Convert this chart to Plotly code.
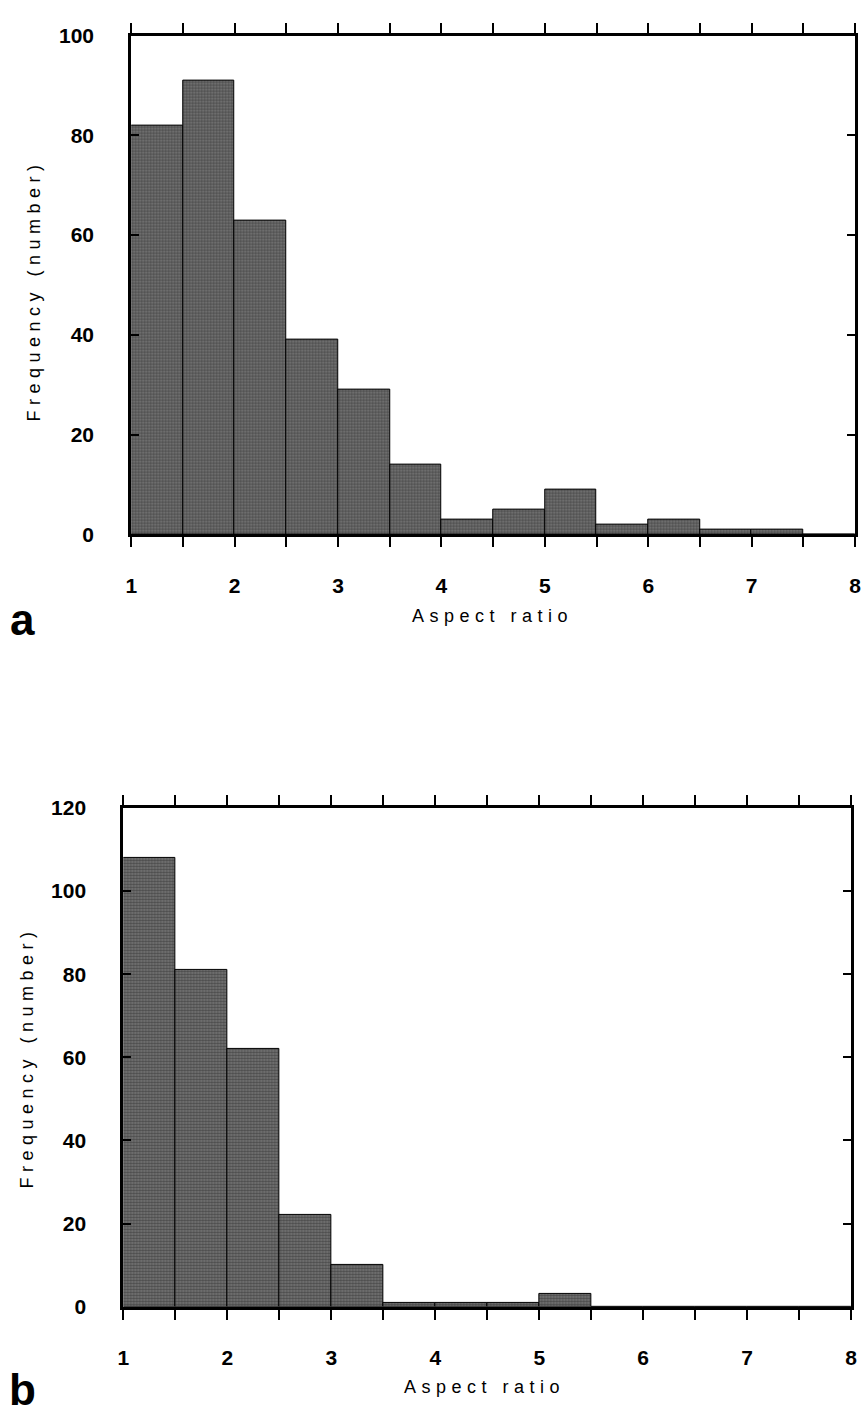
import plotly.graph_objects as go

# bin left edges (aspect ratio) and counts for the two panels
bin_left = [1.0, 1.5, 2.0, 2.5, 3.0, 3.5, 4.0, 4.5, 5.0, 5.5, 6.0, 6.5, 7.0, 7.5]
counts_a = [82, 91, 63, 39, 29, 14, 3, 5, 9, 2, 3, 1, 1, 0]
counts_b = [108, 81, 62, 22, 10, 1, 1, 1, 3, 0, 0, 0, 0, 0]
bin_width = 0.5

x_ticks = [1, 2, 3, 4, 5, 6, 7, 8]
y_ticks_a = [0, 20, 40, 60, 80, 100]
y_ticks_b = [0, 20, 40, 60, 80, 100, 120]

W, H = 868, 1422
centers = [b + bin_width / 2 for b in bin_left]

fig = go.Figure()
bar_style = dict(marker=dict(color="#4e4e4e", line=dict(color="black", width=1),
                             pattern=dict(shape=".", fgcolor="#1c1c1c", bgcolor="#7a7a7a",
                                          size=3, solidity=0.55)),
                 width=bin_width, showlegend=False)
fig.add_trace(go.Bar(x=centers, y=counts_a, xaxis="x", yaxis="y", **bar_style))
fig.add_trace(go.Bar(x=centers, y=counts_b, xaxis="x2", yaxis="y2", **bar_style))

tick_font = dict(family="Liberation Sans, Arial, sans-serif", size=21, color="black", weight="bold")

def xaxis(dom, anchor):
    return dict(domain=dom, anchor=anchor, range=[1, 8], tickvals=x_ticks,
                ticks="outside", ticklen=10, tickwidth=2, tickcolor="black",
                minor=dict(dtick=0.5, tick0=1, ticks="outside", ticklen=10, tickwidth=2, tickcolor="black"),
                showline=True, linewidth=3, linecolor="black", mirror="ticks",
                showgrid=False, zeroline=False, tickfont=tick_font, ticklabelstandoff=20)

def yaxis(dom, anchor, top, vals):
    return dict(domain=dom, anchor=anchor, range=[0, top], tickvals=vals,
                ticks="inside", ticklen=8, tickwidth=2, tickcolor="black",
                showline=True, linewidth=3, linecolor="black", mirror="ticks",
                showgrid=False, zeroline=False, tickfont=tick_font, ticklabelstandoff=30)

ya_top, ya_bot = 1 - 24 / H, 1 - 531 / H
yb_top, yb_bot = 1 - 809 / H, 1 - 1316 / H

fig.update_layout(
    width=W, height=H, margin=dict(l=0, r=0, t=0, b=0),
    paper_bgcolor="white", plot_bgcolor="white", bargap=0,
    xaxis=xaxis([127 / W, 861 / W], "y"),
    yaxis=yaxis([ya_bot, ya_top], "x", 100, y_ticks_a),
    xaxis2=xaxis([119 / W, 857 / W], "y2"),
    yaxis2=yaxis([yb_bot, yb_top], "x2", 120, y_ticks_b),
)

label_font = dict(family="Liberation Sans, Arial, sans-serif", size=18, color="black")
panel_font = dict(family="Liberation Sans, Arial, sans-serif", size=44, color="black", weight="bold")

for title_x, title_y, xcenter, ycenter, letter, letter_y in [
    (493 / W, 1 - 614 / H, 29 / W, 1 - 283 / H, "a", 1 - 617 / H),
    (485 / W, 1 - 1398 / H, 22 / W, (yb_top + yb_bot) / 2, "b", 1 - 1400 / H),
]:
    fig.add_annotation(text="Aspect ratio", x=title_x, y=title_y, xref="paper", yref="paper",
                       showarrow=False, font=label_font, xanchor="center", yanchor="middle")
    fig.add_annotation(text="Frequency (number)", x=xcenter, y=ycenter, xref="paper", yref="paper",
                       showarrow=False, font=label_font, textangle=-90, xanchor="center", yanchor="middle")
    fig.add_annotation(text=letter, x=17 / W, y=letter_y, xref="paper", yref="paper",
                       showarrow=False, font=panel_font, xanchor="center", yanchor="middle")

# no page margin, and the wide letter spacing of the axis titles
js = """
document.body.style.margin = '0';
document.body.style.overflow = 'hidden';
document.querySelectorAll('text.annotation-text').forEach(function (t) {
  if (t.textContent === 'Aspect ratio' || t.textContent === 'Frequency (number)') {
    t.style.letterSpacing = '5.5px';
  }
});
"""
fig.write_html("out.html", post_script=js, config={"displayModeBar": False})
